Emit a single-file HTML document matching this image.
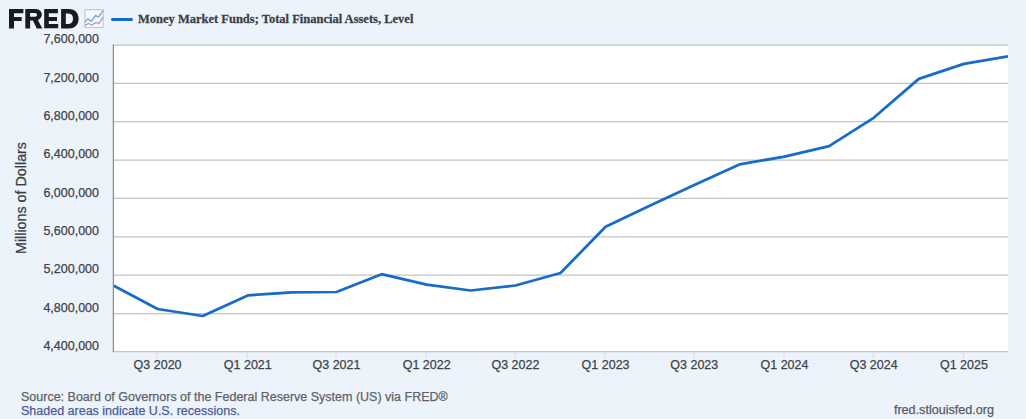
<!DOCTYPE html>
<html><head><meta charset="utf-8"><style>
*{margin:0;padding:0;box-sizing:border-box}
html,body{width:1026px;height:419px;overflow:hidden;background:#edf3fb}
body{position:relative;font-family:"Liberation Sans",sans-serif;color:#333;-webkit-text-stroke:0.25px currentColor}
.yl{position:absolute;left:0;width:99px;text-align:right;font-size:12.5px;line-height:14px;color:#404349}
.xl{position:absolute;top:358px;width:80px;text-align:center;font-size:12.5px;line-height:14px;color:#404349}
#plot{position:absolute;left:113px;top:45px;width:895px;height:306px;background:#fff}
svg.ch{position:absolute;left:0;top:0}
#leg{position:absolute;left:138px;top:12.3px;font-family:"Liberation Serif",serif;font-weight:bold;font-size:12.5px;line-height:14px;color:#3b3f46;white-space:nowrap;transform:scale(1,1.07);transform-origin:0 50%}
#legline{position:absolute;left:110.8px;top:17.9px;width:22.3px;height:3.2px;border-radius:1.4px;background:#166cc8}
#ytitle{position:absolute;left:21px;top:198.3px;width:0;height:0}
#ytitle span{position:absolute;transform:translate(-50%,-50%) rotate(-90deg);white-space:nowrap;font-size:14.3px;color:#3b3e44;line-height:16px}
#src{position:absolute;left:21px;top:389.7px;font-size:12.5px;line-height:14px;color:#5f6368;white-space:nowrap}
#shd{position:absolute;left:21px;top:403.5px;font-size:12.5px;line-height:14px;color:#4b5d9a;white-space:nowrap}
#url{position:absolute;right:32px;top:403.1px;font-size:12.6px;line-height:14px;color:#575b62;white-space:nowrap}
</style></head><body>
<div id="plot"></div>
<svg class="ch" width="1026" height="419" viewBox="0 0 1026 419">
<line x1="113" y1="45.00" x2="1008" y2="45.00" stroke="#c2c3c6" stroke-width="1.25"/><line x1="113" y1="83.37" x2="1008" y2="83.37" stroke="#c2c3c6" stroke-width="1.25"/><line x1="113" y1="121.74" x2="1008" y2="121.74" stroke="#c2c3c6" stroke-width="1.25"/><line x1="113" y1="160.11" x2="1008" y2="160.11" stroke="#c2c3c6" stroke-width="1.25"/><line x1="113" y1="198.48" x2="1008" y2="198.48" stroke="#c2c3c6" stroke-width="1.25"/><line x1="113" y1="236.85" x2="1008" y2="236.85" stroke="#c2c3c6" stroke-width="1.25"/><line x1="113" y1="275.22" x2="1008" y2="275.22" stroke="#c2c3c6" stroke-width="1.25"/><line x1="113" y1="313.59" x2="1008" y2="313.59" stroke="#c2c3c6" stroke-width="1.25"/><line x1="113" y1="351.50" x2="1008" y2="351.50" stroke="#c2c3c6" stroke-width="1.25"/><line x1="157.1" y1="352.0" x2="157.1" y2="358.5" stroke="#d6dbe2" stroke-width="1"/><line x1="247.3" y1="352.0" x2="247.3" y2="358.5" stroke="#d6dbe2" stroke-width="1"/><line x1="336.0" y1="352.0" x2="336.0" y2="358.5" stroke="#d6dbe2" stroke-width="1"/><line x1="426.2" y1="352.0" x2="426.2" y2="358.5" stroke="#d6dbe2" stroke-width="1"/><line x1="514.9" y1="352.0" x2="514.9" y2="358.5" stroke="#d6dbe2" stroke-width="1"/><line x1="605.1" y1="352.0" x2="605.1" y2="358.5" stroke="#d6dbe2" stroke-width="1"/><line x1="693.8" y1="352.0" x2="693.8" y2="358.5" stroke="#d6dbe2" stroke-width="1"/><line x1="784.0" y1="352.0" x2="784.0" y2="358.5" stroke="#d6dbe2" stroke-width="1"/><line x1="873.2" y1="352.0" x2="873.2" y2="358.5" stroke="#d6dbe2" stroke-width="1"/><line x1="963.4" y1="352.0" x2="963.4" y2="358.5" stroke="#d6dbe2" stroke-width="1"/><polyline points="113.8,285.8 157.6,309.0 202.7,316.0 247.8,295.4 291.9,292.4 336.5,292.0 381.6,274.2 426.7,284.7 470.8,290.5 515.4,285.5 560.5,273.0 605.6,226.8 649.7,205.8 694.3,185.0 739.4,164.4 784.5,156.6 829.1,146.1 873.7,117.8 918.8,78.9 963.9,63.9 1008.0,56.4" fill="none" stroke="#166cc8" stroke-width="2.75" stroke-linejoin="round" stroke-linecap="butt"/><line x1="113.4" y1="44.5" x2="113.4" y2="352.1" stroke="#868a90" stroke-width="1.2"/>
</svg>
<div class="yl" style="top:32.25px">7,600,000</div><div class="yl" style="top:70.60px">7,200,000</div><div class="yl" style="top:108.95px">6,800,000</div><div class="yl" style="top:147.30px">6,400,000</div><div class="yl" style="top:185.65px">6,000,000</div><div class="yl" style="top:224.00px">5,600,000</div><div class="yl" style="top:262.35px">5,200,000</div><div class="yl" style="top:300.70px">4,800,000</div><div class="yl" style="top:339.05px">4,400,000</div>
<div class="xl" style="left:117.6px">Q3 2020</div><div class="xl" style="left:207.8px">Q1 2021</div><div class="xl" style="left:296.5px">Q3 2021</div><div class="xl" style="left:386.7px">Q1 2022</div><div class="xl" style="left:475.4px">Q3 2022</div><div class="xl" style="left:565.6px">Q1 2023</div><div class="xl" style="left:654.3px">Q3 2023</div><div class="xl" style="left:744.5px">Q1 2024</div><div class="xl" style="left:833.7px">Q3 2024</div><div class="xl" style="left:923.9px">Q1 2025</div>
<svg style="position:absolute;left:0;top:0" width="110" height="36" viewBox="0 0 110 36">
<g fill="#1a1b1e">
<path d="M9,9 H23.4 V13.2 H14 V17 H21.7 V21 H14 V28.4 H9 Z"/>
<path fill-rule="evenodd" d="M25.3,9 H35.2 C39.6,9 41.8,11.6 41.8,14.6 C41.8,17.1 40.4,19.1 37.9,19.9 L42.3,28.6 H36.8 L32.9,20.6 H30.1 V28.6 H25.3 Z M30.1,12.9 H35 C36.4,12.9 37,13.8 37,14.8 C37,15.8 36.4,16.8 35,16.8 H30.1 Z"/>
<path d="M44.2,9 H57.9 V13.2 H48.8 V17 H57 V20.9 H48.8 V23.9 H58.2 V28.2 H44.2 Z"/>
<path fill-rule="evenodd" d="M61.1,9 H69 C75,9 78.6,13 78.6,18.7 C78.6,24.4 75,28.4 69,28.4 H61.1 Z M65.8,13.5 H68.5 C71.5,13.5 73,15.6 73,18.7 C73,21.8 71.5,23.9 68.5,23.9 H65.8 Z"/>
</g>
<rect x="84.9" y="9.7" width="18.3" height="17.8" fill="#f7f9fc" stroke="#bfc3c8" stroke-width="1"/>
<polyline points="84.8,22.1 87.7,18.8 91.3,21.4 95.5,15.6 98.7,16.9 103.2,10.5" fill="none" stroke="#69a3e4" stroke-width="1.3"/>
<polyline points="84.8,25.6 88.4,23.4 91.6,25 96.1,22.4 99,23.7 103.2,16.9" fill="none" stroke="#a5a3bb" stroke-width="1.3"/>
</svg>
<div id="legline"></div>
<div id="leg">Money Market Funds; Total Financial Assets, Level</div>
<div id="ytitle"><span>Millions of Dollars</span></div>
<div id="src">Source: Board of Governors of the Federal Reserve System (US) via FRED®</div>
<div id="shd">Shaded areas indicate U.S. recessions.</div>
<div id="url">fred.stlouisfed.org</div>
</body></html>
